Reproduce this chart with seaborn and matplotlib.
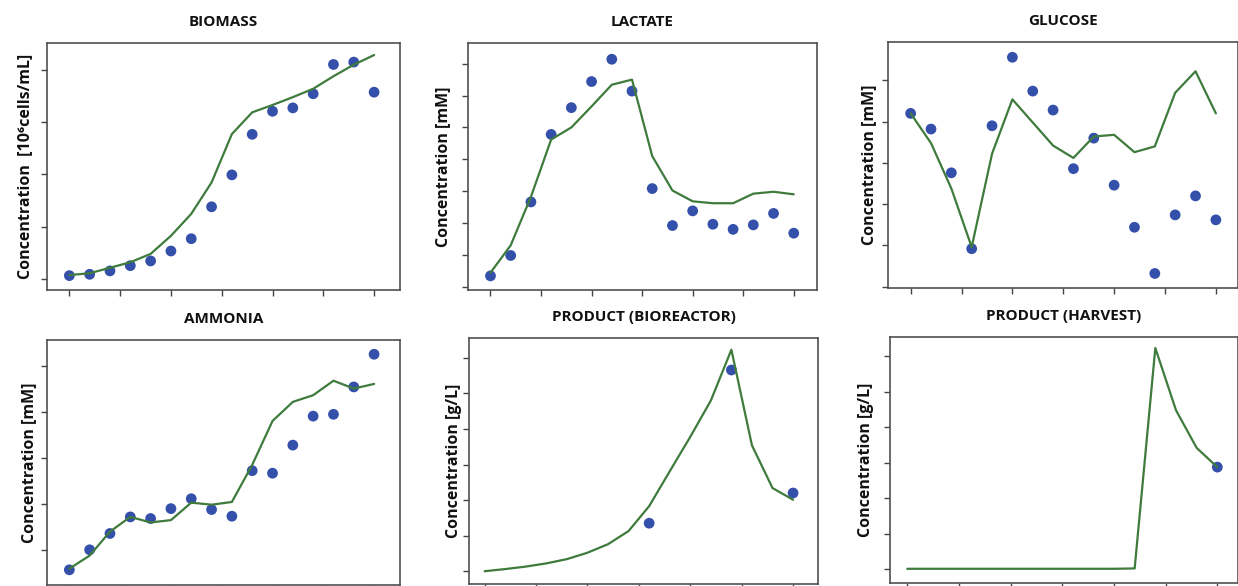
import matplotlib
matplotlib.use("Agg")
import matplotlib.pyplot as plt
import seaborn as sns
import pandas as pd

# ---------------- data ----------------
days = [0.0, 0.8, 1.6, 2.4, 3.2, 4.0, 4.8, 5.6, 6.4, 7.2, 8.0, 8.8, 9.6, 10.4, 11.2, 12.0]

biomass_obs = [0.13, 0.18, 0.31, 0.51, 0.69, 1.07, 1.54, 2.76, 3.98, 5.53, 6.41, 6.54, 7.08, 8.20, 8.29, 7.14]
biomass_sim = [0.15, 0.22, 0.43, 0.64, 0.96, 1.65, 2.49, 3.69, 5.54, 6.37, 6.65, 6.95, 7.27, 7.75, 8.19, 8.56]

lactate_obs = [1.7, 4.9, 13.3, 23.9, 28.1, 32.2, 35.7, 30.7, 15.4, 9.6, 11.9, 9.8, 9.0, 9.7, 11.5, 8.4]
lactate_sim = [2.2, 6.5, 14.1, 23.1, 25.0, 28.3, 31.7, 32.5, 20.5, 15.1, 13.4, 13.1, 13.1, 14.6, 14.9, 14.5]

glucose_obs = [36.0, 34.1, 28.8, 19.6, 34.5, 42.8, 38.7, 36.4, 29.3, 33.0, 27.3, 22.2, 16.6, 23.7, 26.0, 23.1]
glucose_sim = [36.0, 32.4, 26.9, 19.8, 31.1, 37.7, 34.9, 32.1, 30.6, 33.2, 33.4, 31.3, 32.0, 38.5, 41.1, 36.0]

ammonia_obs = [1.16, 2.03, 2.74, 3.46, 3.39, 3.82, 4.25, 3.78, 3.49, 5.47, 5.36, 6.58, 7.84, 7.92, 9.11, 10.53]
ammonia_sim = [1.21, 1.78, 2.82, 3.46, 3.22, 3.32, 4.08, 3.99, 4.11, 5.72, 7.63, 8.46, 8.75, 9.38, 9.04, 9.24]

product_bio_sim = [0.00, 0.06, 0.13, 0.22, 0.34, 0.52, 0.76, 1.13, 1.83, 2.81, 3.78, 4.80, 6.23, 3.54, 2.34, 2.01]
product_bio_obs_days = [6.4, 9.6, 12.0]
product_bio_obs = [1.35, 5.66, 2.20]

product_harv_sim = [0.02, 0.02, 0.02, 0.02, 0.02, 0.02, 0.02, 0.02, 0.02, 0.02, 0.02, 0.03, 6.23, 4.48, 3.42, 2.88]
product_harv_obs_days = [12.0]
product_harv_obs = [2.88]

titles = ["BIOMASS", "LACTATE", "GLUCOSE", "AMMONIA", "PRODUCT (BIOREACTOR)", "PRODUCT (HARVEST)"]
ylabels = ["Concentration  [10\u2076cells/mL]", "Concentration [mM]", "Concentration [mM]",
           "Concentration [mM]", "Concentration [g/L]", "Concentration [g/L]"]

# ---------------- style ----------------
sns.set_theme(style="white")
plt.rcParams["font.family"] = ["Open Sans", "DejaVu Sans"]

DOT = "#3450aa"
LINE = "#3e7b3c"
SPINE = "#505050"

W, H = 1238, 586
fig = plt.figure(figsize=(W / 100, H / 100), dpi=100)

def add_ax(l, t, r, b):
    return fig.add_axes([l / W, 1 - b / H, (r - l) / W, (b - t) / H])

panels = [
    # box(px)                 , obs_x, obs_y, sim_y, xlim, ylim, yticks, label_off(px)
    ((47, 43, 400, 290), days, biomass_obs, biomass_sim, (-0.88, 13.02), (-0.42, 9.02), [0, 2, 4, 6, 8], 14),
    ((468, 43, 817, 290), days, lactate_obs, lactate_sim, (-0.89, 12.92), (-0.52, 38.25), [0, 5, 10, 15, 20, 25, 30, 35], 17),
    ((888, 42, 1238, 288), days, glucose_obs, glucose_sim, (-0.89, 12.87), (14.84, 44.65), [15, 20, 25, 30, 35, 40], 11),
    ((47, 340, 400, 585), days, ammonia_obs, ammonia_sim, (-0.88, 13.02), (0.5, 11.15), [2, 4, 6, 8, 10], 10),
    ((469, 338, 818, 584), product_bio_obs_days, product_bio_obs, product_bio_sim, (-0.61, 12.97), (-0.36, 6.56), [0, 1, 2, 3, 4, 5, 6], 7),
    ((890, 337, 1238, 583), product_harv_obs_days, product_harv_obs, product_harv_sim, (-0.67, 12.8), (-0.38, 6.54), [0, 1, 2, 3, 4, 5, 6], 16),
]

for i, (box, ox, oy, sy, xl, yl, yt, loff) in enumerate(panels):
    ax = add_ax(*box)
    sim_df = pd.DataFrame({"day": days, "value": sy})
    obs_df = pd.DataFrame({"day": ox, "value": oy})
    sns.lineplot(data=sim_df, x="day", y="value", ax=ax, color=LINE, linewidth=1.6, zorder=3)
    sns.scatterplot(data=obs_df, x="day", y="value", ax=ax, color=DOT, s=60,
                    edgecolor="none", zorder=2)
    ax.set_xlim(*xl)
    ax.set_ylim(*yl)
    ax.set_xticks([0, 2, 4, 6, 8, 10, 12])
    ax.set_yticks(yt)
    ax.tick_params(axis="both", which="both", direction="out", length=4, width=1,
                   color="#444444", labelleft=False, labelbottom=False, left=True, bottom=True)
    for sp in ax.spines.values():
        sp.set_color(SPINE)
        sp.set_linewidth(1.2)
    ax.set_xlabel("")
    ax.set_ylabel(ylabels[i], fontsize=11.5, fontweight="bold", color="#111111")
    width_px = box[2] - box[0]
    ax.yaxis.set_label_coords(-loff / width_px, 0.5)
    ax.set_title(titles[i], fontsize=11, fontweight="bold", color="#111111", pad=12)

fig.savefig("out.png", dpi=100)
